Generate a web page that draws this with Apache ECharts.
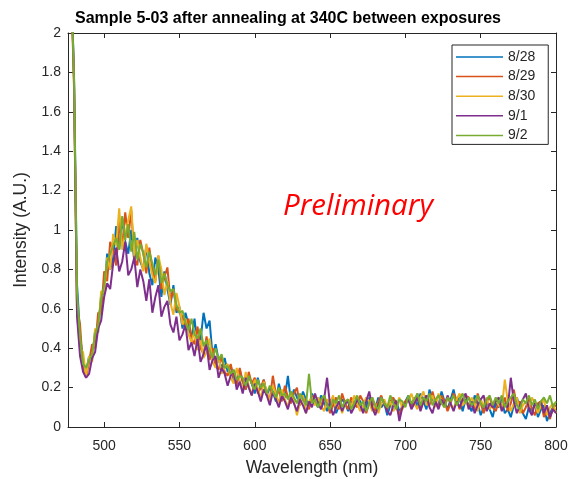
<!DOCTYPE html>
<html>
<head>
<meta charset="utf-8">
<script src="https://cdn.jsdelivr.net/npm/echarts@6/dist/echarts.min.js"></script>
<style>html,body{margin:0;padding:0;background:#fff}#c{width:570px;height:479px}</style>
</head>
<body>
<div id="c"></div>
<script>
const wavelengths = [476,478,480,482,484,486,488,490,492,494,496,498,500,502,504,506,508,510,512,514,516,518,520,522,524,526,528,530,532,534,536,538,540,542,544,546,548,550,552,554,556,558,560,562,564,566,568,570,572,574,576,578,580,582,584,586,588,590,592,594,596,598,600,602,604,606,608,610,612,614,616,618,620,622,624,626,628,630,632,634,636,638,640,642,644,646,648,650,652,654,656,658,660,662,664,666,668,670,672,674,676,678,680,682,684,686,688,690,692,694,696,698,700,702,704,706,708,710,712,714,716,718,720,722,724,726,728,730,732,734,736,738,740,742,744,746,748,750,752,754,756,758,760,762,764,766,768,770,772,774,776,778,780,782,784,786,788,790,792,794,796,798,800];

const seriesNames = ['8/28','8/29','8/30','9/1','9/2'];

const s0828 = [2.80,2.32,1.78,0.72,0.47,0.33,0.28,0.36,0.34,0.49,0.48,0.67,
0.68,0.88,0.80,0.86,1.02,0.90,1.06,0.94,0.88,1.00,0.84,
0.96,0.84,0.80,0.92,0.78,0.72,0.86,0.80,0.66,0.79,0.70,0.62,0.72,0.58,0.61,
0.50,0.58,0.52,0.45,0.55,0.40,0.44,0.58,0.50,0.54,0.36,0.42,0.34,0.30,0.35,
0.28,0.31,0.24,0.22,0.29,0.23,0.19,0.26,0.22,0.17,0.25,0.19,0.24,0.16,0.20,0.18,0.13,0.22,0.16,0.15,0.26,0.13,0.19,0.15,0.12,0.18,0.14,0.10,0.17,0.13,
0.10,0.16,0.12,0.08,0.13,0.15,0.07,0.11,0.14,0.12,
0.08,0.13,0.10,0.15,0.13,0.08,0.10,0.15,0.11,0.09,
0.15,0.10,0.12,0.06,0.11,0.14,0.13,0.08,0.10,0.13,
0.16,0.11,0.15,0.10,0.17,0.13,0.09,0.19,0.14,0.12,
0.11,0.18,0.13,0.09,0.14,0.19,0.12,0.15,0.08,0.14,
0.11,0.08,0.16,0.12,0.06,0.10,0.13,0.09,0.05,0.12,
0.10,0.14,0.07,0.09,0.05,0.11,0.15,0.10,0.07,0.04,
0.10,0.08,0.12,0.05,0.09,0.11,0.03,0.07,0.10,0.08];

const s0829 = [2.78,2.28,1.72,0.60,0.52,0.29,0.25,0.33,0.42,0.40,0.58,0.58,
0.79,0.74,0.94,0.90,0.82,1.04,0.92,1.09,0.96,1.10,0.86,
0.82,0.95,0.88,0.78,0.91,0.80,0.74,0.87,0.70,0.76,0.81,0.64,0.70,0.60,0.58,
0.56,0.50,0.55,0.45,0.42,0.51,0.40,0.37,0.46,0.34,0.40,0.31,0.29,0.36,0.28,
0.26,0.32,0.25,0.21,0.30,0.23,0.19,0.28,0.22,0.25,0.17,0.20,0.24,0.16,0.14,0.26,0.17,0.18,0.13,0.21,0.15,0.12,0.17,0.20,0.11,0.15,0.13,0.09,0.16,0.12,
0.13,0.10,0.16,0.12,0.07,0.11,0.15,0.09,0.17,0.12,
0.09,0.15,0.12,0.10,0.16,0.13,0.07,0.12,0.15,0.08,
0.13,0.16,0.11,0.09,0.13,0.15,0.10,0.06,0.11,0.13,
0.15,0.10,0.12,0.17,0.09,0.13,0.16,0.11,0.18,0.12,
0.10,0.16,0.13,0.08,0.12,0.17,0.14,0.09,0.13,0.16,
0.15,0.11,0.09,0.17,0.12,0.07,0.13,0.15,0.10,0.08,
0.13,0.10,0.15,0.08,0.12,0.19,0.11,0.13,0.07,0.10,
0.15,0.09,0.06,0.12,0.13,0.05,0.09,0.04,0.10,0.11];

const s0830 = [2.82,2.30,1.74,0.58,0.40,0.38,0.26,0.36,0.33,0.50,0.48,0.69,
0.68,0.86,0.80,0.98,0.92,1.11,0.90,0.98,1.05,1.12,0.87,
0.95,0.86,0.79,0.93,0.84,0.77,0.73,0.87,0.80,0.67,0.74,0.63,0.57,0.68,0.61,
0.52,0.55,0.47,0.43,0.49,0.39,0.44,0.35,0.38,0.45,0.33,0.30,0.36,0.27,0.30,
0.32,0.25,0.22,0.30,0.24,0.19,0.28,0.21,0.16,0.24,0.20,0.14,0.23,0.18,0.13,0.21,0.17,0.12,0.19,0.14,0.10,0.18,0.13,0.06,0.12,0.16,0.07,0.13,0.15,0.11,
0.15,0.11,0.08,0.14,0.12,0.16,0.09,0.13,0.07,0.12,
0.14,0.10,0.16,0.12,0.08,0.11,0.15,0.13,0.08,0.12,
0.07,0.12,0.14,0.10,0.13,0.08,0.11,0.15,0.09,0.12,
0.13,0.17,0.12,0.09,0.15,0.18,0.11,0.13,0.16,0.10,
0.17,0.13,0.10,0.15,0.12,0.09,0.14,0.17,0.11,0.13,
0.10,0.15,0.12,0.08,0.14,0.11,0.15,0.09,0.12,0.14,
0.11,0.09,0.24,0.13,0.08,0.12,0.15,0.07,0.11,0.13,
0.10,0.15,0.12,0.07,0.11,0.14,0.06,0.10,0.12,0.07];

const s0901 = [2.79,2.31,1.76,0.56,0.36,0.28,0.25,0.27,0.35,0.38,0.50,0.54,
0.66,0.73,0.70,0.83,0.91,0.79,0.84,0.94,0.77,0.80,0.86,
0.71,0.80,0.74,0.64,0.75,0.58,0.66,0.72,0.56,0.61,0.64,0.52,0.48,0.56,0.44,
0.47,0.52,0.39,0.43,0.36,0.45,0.33,0.37,0.42,0.29,0.34,0.36,0.25,0.30,0.27,
0.21,0.26,0.29,0.19,0.23,0.17,0.25,0.20,0.16,0.22,0.18,0.13,0.19,0.16,0.11,0.18,0.14,0.10,0.16,0.13,0.09,0.15,0.12,0.08,0.14,0.11,0.07,0.13,0.10,0.17,
0.12,0.09,0.14,0.25,0.11,0.06,0.10,0.13,0.08,0.12,
0.13,0.07,0.10,0.14,0.11,0.07,0.13,0.18,0.10,0.06,
0.11,0.15,0.12,0.08,0.06,0.11,0.13,0.03,0.10,0.12,
0.14,0.09,0.12,0.15,0.08,0.13,0.16,0.10,0.07,0.13,
0.09,0.14,0.11,0.16,0.12,0.08,0.13,0.10,0.14,0.17,
0.09,0.13,0.07,0.11,0.14,0.16,0.08,0.12,0.10,0.13,
0.15,0.08,0.12,0.10,0.25,0.13,0.07,0.11,0.14,0.17,
0.09,0.06,0.12,0.10,0.13,0.07,0.11,0.05,0.09,0.07];

const s0902 = [2.81,2.29,1.77,0.68,0.46,0.32,0.30,0.34,0.37,0.47,0.52,0.65,
0.72,0.84,0.88,0.92,0.96,0.90,1.07,0.95,1.03,0.89,0.99,
0.85,0.93,0.88,0.81,0.89,0.83,0.77,0.85,0.73,0.78,0.72,0.69,0.70,0.62,0.58,
0.59,0.53,0.49,0.55,0.47,0.45,0.50,0.41,0.44,0.39,0.35,0.40,0.34,0.37,0.30,
0.31,0.27,0.29,0.24,0.26,0.25,0.21,0.26,0.22,0.19,0.24,0.20,0.22,0.17,0.21,0.18,0.15,0.20,0.16,0.17,0.14,0.18,0.15,0.12,0.17,0.14,0.11,0.27,0.12,0.14,
0.10,0.14,0.16,0.11,0.09,0.14,0.12,0.16,0.10,0.13,
0.14,0.09,0.12,0.16,0.11,0.13,0.08,0.12,0.15,0.11,
0.09,0.15,0.12,0.10,0.16,0.12,0.09,0.14,0.13,0.10,
0.16,0.12,0.14,0.17,0.11,0.15,0.13,0.17,0.11,0.14,
0.16,0.12,0.10,0.15,0.13,0.16,0.11,0.14,0.17,0.12,
0.15,0.11,0.13,0.16,0.12,0.10,0.14,0.16,0.11,0.15,
0.12,0.16,0.10,0.13,0.15,0.17,0.11,0.09,0.14,0.12,
0.16,0.11,0.14,0.09,0.13,0.15,0.12,0.16,0.10,0.13];

const xTicks = [500,550,600,650,700,750,800];
const yTicks = [0,0.2,0.4,0.6,0.8,1,1.2,1.4,1.6,1.8,2];

const allSeries = [s0828, s0829, s0830, s0901, s0902];
const colors = ['#0072BD','#D95319','#EDB120','#7E2F8E','#77AC30'];
const axisColor = '#262626';
const font = '"Liberation Sans", Arial, sans-serif';

const chart = echarts.init(document.getElementById('c'), null, {renderer: 'canvas'});

const xCommon = {
  type: 'value', min: 476, max: 800,
  axisLine: {show: true, onZero: false, lineStyle: {color: axisColor, width: 1}},
  axisTick: {show: true, inside: true, length: 5, customValues: xTicks, lineStyle: {color: axisColor}},
  splitLine: {show: false}
};
const yCommon = {
  type: 'value', min: 0, max: 2, interval: 0.2,
  axisLine: {show: true, onZero: false, lineStyle: {color: axisColor, width: 1}},
  axisTick: {show: true, inside: true, length: 5, lineStyle: {color: axisColor}},
  splitLine: {show: false}
};

chart.setOption({
  animation: false,
  color: colors,
  title: {
    text: 'Sample 5-03 after annealing at 340C between exposures',
    left: 283, top: 6, textAlign: 'center',
    textStyle: {fontFamily: font, fontSize: 16, fontWeight: 'bold', color: '#000'}
  },
  grid: {left: 68, right: 14, top: 33, bottom: 52, containLabel: false, outerBoundsMode: 'none'},
  legend: {
    orient: 'vertical', left: 452, top: 45,
    padding: [4, 13, 1, 4],
    icon: 'rect',
    itemWidth: 47, itemHeight: 1.5, itemGap: 3.6,
    borderColor: axisColor, borderWidth: 1, backgroundColor: '#fff',
    textStyle: {fontFamily: font, fontSize: 14, color: axisColor, lineHeight: 16},
    data: seriesNames
  },
  xAxis: [
    Object.assign({}, xCommon, {
      position: 'bottom',
      name: 'Wavelength (nm)', nameLocation: 'middle', nameGap: 32,
      nameTextStyle: {fontFamily: font, fontSize: 17.5, color: axisColor},
      axisLabel: {show: true, customValues: xTicks, margin: 12, fontFamily: font, fontSize: 14, color: axisColor}
    }),
    Object.assign({}, xCommon, {position: 'top', axisLabel: {show: false}})
  ],
  yAxis: [
    Object.assign({}, yCommon, {
      position: 'left',
      name: 'Intensity (A.U.)', nameLocation: 'middle', nameGap: 35,
      nameTextStyle: {fontFamily: font, fontSize: 17.5, color: axisColor},
      axisLabel: {show: true, margin: 7, fontFamily: font, fontSize: 14, color: axisColor}
    }),
    Object.assign({}, yCommon, {position: 'right', axisLabel: {show: false}})
  ],
  graphic: [{
    type: 'text', left: 283, top: 192, z: 100,
    style: {text: 'Preliminary', font: 'italic 29.5px "Open Sans", "Noto Sans", sans-serif', fill: '#ff0000'}
  }],
  series: allSeries.map((vals, k) => ({
    name: seriesNames[k],
    type: 'line',
    xAxisIndex: 0, yAxisIndex: 0,
    symbol: 'none',
    clip: true,
    lineStyle: {width: 2, color: colors[k]},
    data: vals.map((v, i) => [wavelengths[i], v])
  }))
});
</script>
</body>
</html>
